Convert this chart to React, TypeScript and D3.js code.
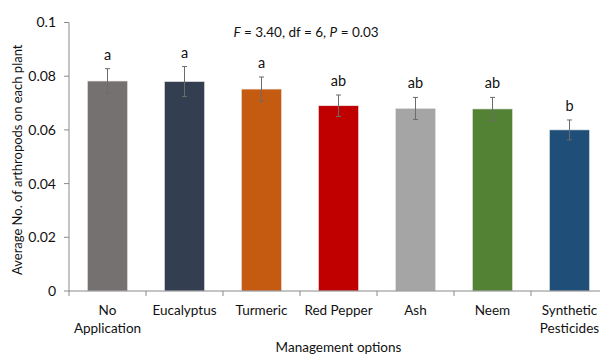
import React from "react";
import * as d3 from "d3";

const categories = ["No Application", "Eucalyptus", "Turmeric", "Red Pepper", "Ash", "Neem", "Synthetic Pesticides"];
const labelLines = [["No", "Application"], ["Eucalyptus"], ["Turmeric"], ["Red Pepper"], ["Ash"], ["Neem"], ["Synthetic", "Pesticides"]];
const means = [0.0782, 0.078, 0.0752, 0.069, 0.068, 0.0678, 0.06];
const errors = [0.0046, 0.0056, 0.0045, 0.004, 0.0041, 0.0043, 0.0037];
const letters = ["a", "a", "a", "ab", "ab", "ab", "b"];
const colors = ["#767171", "#333F50", "#C55A11", "#C00000", "#A5A5A5", "#548235", "#1F4E79"];
const yTicks = [0, 0.02, 0.04, 0.06, 0.08, 0.1];

const FONT = "Lato, 'Open Sans', sans-serif";

export default function App() {
  const W = 600, H = 356;
  const left = 69, right = 608, top = 22.5, bottom = 291;
  const x = d3.scaleBand<string>().domain(categories).range([left, right]).paddingInner(0.48).paddingOuter(0.24);
  const y = d3.scaleLinear().domain([0, 0.1]).range([bottom, top]);
  const step = x.step();
  const axisColor = "#8a8a8a";
  const fmt = (v: number) => (v === 0 ? "0" : String(+v.toFixed(2)));

  return (
    <svg width={W} height={H} style={{ position: "absolute", left: 0, top: 0, background: "#fff" }} fontFamily={FONT}>
      {categories.map((c, i) => {
        const bx = x(c)!;
        const cx = bx + x.bandwidth() / 2;
        const yt = y(means[i] + errors[i]);
        const yb = y(means[i] - errors[i]);
        return (
          <g key={c}>
            <rect x={bx} y={y(means[i])} width={x.bandwidth()} height={bottom - y(means[i])} fill={colors[i]} stroke="#e6e6e6" strokeWidth={0.6} />
            <line x1={cx} x2={cx} y1={yt} y2={yb} stroke="#6b6b6b" strokeWidth={1} />
            <line x1={cx - 2.5} x2={cx + 2.5} y1={yt} y2={yt} stroke="#6b6b6b" strokeWidth={1} />
            <line x1={cx - 2.5} x2={cx + 2.5} y1={yb} y2={yb} stroke="#6b6b6b" strokeWidth={1} />
            <text x={cx} y={yt - 9} textAnchor="middle" fontSize={14.5} fill="#111">{letters[i]}</text>
          </g>
        );
      })}
      <line x1={left} x2={left} y1={top} y2={bottom} stroke={axisColor} strokeWidth={1} />
      {yTicks.map((t) => (
        <g key={t}>
          <line x1={left - 5} x2={left} y1={y(t)} y2={y(t)} stroke={axisColor} />
          <text x={left - 13} y={y(t)} dy="0.35em" textAnchor="end" fontSize={14} fill="#111">{fmt(t)}</text>
        </g>
      ))}
      <line x1={left} x2={right} y1={bottom} y2={bottom} stroke={axisColor} strokeWidth={1} />
      {d3.range(categories.length + 1).map((i) => (
        <line key={i} x1={left + i * step} x2={left + i * step} y1={bottom} y2={bottom + 5} stroke={axisColor} />
      ))}
      {categories.map((c, i) => {
        const cx = x(c)! + x.bandwidth() / 2;
        return (
          <text key={c} x={cx} textAnchor="middle" fontSize={13.5} fill="#111">
            {labelLines[i].map((l, j) => (
              <tspan key={j} x={cx} y={315 + j * 18}>{l}</tspan>
            ))}
          </text>
        );
      })}
      <text x={(left + right) / 2} y={351.5} textAnchor="middle" fontSize={13.5} fill="#111">Management options</text>
      <text transform={`translate(22,${(top + bottom) / 2 + 3}) rotate(-90)`} textAnchor="middle" fontSize={13} fill="#111">
        Average No. of arthropods on each plant
      </text>
      <text x={306} y={37} textAnchor="middle" fontSize={13.5} fill="#111">
        <tspan fontStyle="italic">F</tspan>
        <tspan> = 3.40, df = 6, </tspan>
        <tspan fontStyle="italic">P</tspan>
        <tspan> = 0.03</tspan>
      </text>
    </svg>
  );
}
